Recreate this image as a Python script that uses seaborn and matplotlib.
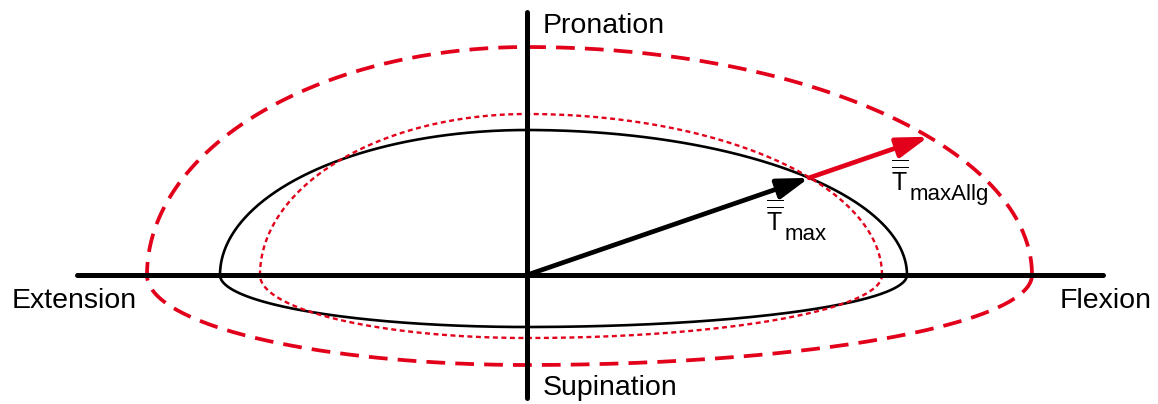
import numpy as np
import matplotlib
matplotlib.use("Agg")
import matplotlib.pyplot as plt
import seaborn as sns

# Torque envelopes in the flexion/pronation plane (origin = neutral position).
# Each envelope is given by its reach towards extension, flexion, pronation, supination.
envelope_names = ["Tmax", "Tmax_ref", "TmaxAllg"]
reach_extension = [307, 267, 380]
reach_flexion = [380, 355, 505]
reach_pronation = [145, 161, 228]
reach_supination = [52, 63, 90]

# Direction of the maximal torque vector (degrees above the flexion axis)
tmax_direction_deg = 19.0

# Axis extents
axis_x = [-450, 576]
axis_y = [-123, 263]

RED = "#E2001A"

sns.set_theme(style="white")
plt.rcParams["font.family"] = ["Liberation Sans", "DejaVu Sans"]
plt.rcParams["mathtext.fontset"] = "custom"
plt.rcParams["mathtext.rm"] = "Liberation Sans"
plt.rcParams["mathtext.it"] = "Liberation Sans:italic"
plt.rcParams["text.color"] = "black"


def envelope(i, n=721):
    t = np.linspace(0, 2 * np.pi, n)
    c, s = np.cos(t), np.sin(t)
    x = np.where(c >= 0, reach_flexion[i], reach_extension[i]) * c
    y = np.where(s >= 0, reach_pronation[i], reach_supination[i]) * s
    return x, y


def reach_along(i, ang):
    # distance from origin to envelope i along direction ang (upper-right quadrant)
    c, s = np.cos(ang), np.sin(ang)
    return 1.0 / np.sqrt((c / reach_flexion[i]) ** 2 + (s / reach_pronation[i]) ** 2)


fig = plt.figure(figsize=(11.58, 4.04), dpi=100)
ax = fig.add_axes([0, 0, 1, 1])
ax.set_xlim(-527, 631)
ax.set_ylim(-129, 275)
ax.set_axis_off()

# Axes cross
ax.plot(axis_x, [0, 0], color="black", lw=3.6, solid_capstyle="round", zorder=3)
ax.plot([0, 0], axis_y, color="black", lw=3.6, solid_capstyle="round", zorder=3)

# Envelopes
styles = [
    dict(color="black", lw=1.9, linestyle="-"),
    dict(color=RED, lw=1.7, linestyle=(0, (2.1, 1.5))),
    dict(color=RED, lw=2.7, linestyle=(0, (5.0, 2.7))),
]
for i, name in enumerate(envelope_names):
    ex, ey = envelope(i)
    sns.lineplot(x=ex, y=ey, sort=False, estimator=None, ax=ax, zorder=2, **styles[i])

# Torque vectors
ang = np.deg2rad(tmax_direction_deg)
d = np.array([np.cos(ang), np.sin(ang)])
tip_max = d * reach_along(0, ang)
tip_allg = d * reach_along(2, ang)

ax.annotate("", xy=tuple(tip_allg), xytext=tuple(tip_max),
            arrowprops=dict(arrowstyle="-|>,head_length=1.0,head_width=0.32",
                            mutation_scale=19, lw=3.4, color=RED,
                            shrinkA=0, shrinkB=0), zorder=4)
ax.annotate("", xy=tuple(tip_max), xytext=(0, 0),
            arrowprops=dict(arrowstyle="-|>,head_length=1.0,head_width=0.32",
                            mutation_scale=19, lw=3.4, color="black",
                            shrinkA=0, shrinkB=0), zorder=5)

# Axis labels
fs = 20.5
ax.text(16, 242, "Pronation", fontsize=fs, ha="left", va="baseline")
ax.text(16, -120, "Supination", fontsize=fs, ha="left", va="baseline")
ax.text(-515, -33, "Extension", fontsize=fs, ha="left", va="baseline")
ax.text(533, -33, "Flexion", fontsize=fs, ha="left", va="baseline")

# Vector labels: double-barred T with subscript
tensor_T = r"$\overline{\overline{\mathrm{T}}}$"
ax.text(239, 45, tensor_T, fontsize=18, ha="left", va="baseline")
ax.text(258, 35, "max", fontsize=16, ha="left", va="baseline")
ax.text(364, 85, tensor_T, fontsize=18, ha="left", va="baseline")
ax.text(383, 75, "maxAllg", fontsize=16, ha="left", va="baseline")

fig.savefig("out.png", dpi=100)
